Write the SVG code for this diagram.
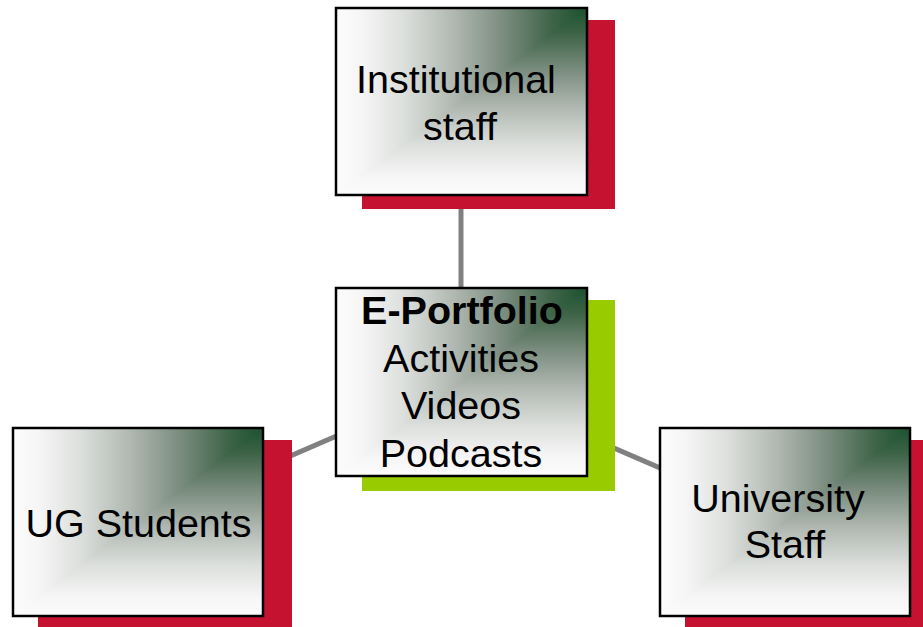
<svg xmlns="http://www.w3.org/2000/svg" width="923" height="627" viewBox="0 0 923 627">
<defs>
<linearGradient id="gh" x1="1" y1="0" x2="0" y2="0">
<stop offset="0" stop-color="#1b5230"/>
<stop offset="0.14" stop-color="#3f6448"/>
<stop offset="0.33" stop-color="#7a8c7e"/>
<stop offset="0.53" stop-color="#b0b8b1"/>
<stop offset="0.73" stop-color="#dcdfdc"/>
<stop offset="0.9" stop-color="#f6f6f6"/>
<stop offset="1" stop-color="#fcfcfc"/>
</linearGradient>
<linearGradient id="gv" href="#gh" x1="0" y1="0" x2="0" y2="1"/>
<style>
.gh{fill:url(#gh)}
.gv{fill:url(#gv)}
.frame{fill:none;stroke:#000;stroke-width:2.5}
.red{fill:#c41230}
.grn{fill:#99cc00}
.t{font-family:"Liberation Sans",Arial,sans-serif;font-size:39.5px;fill:#000;text-anchor:middle}
.b{font-weight:bold}
.c{stroke:#808080;stroke-width:5;fill:none}
</style>
</defs>
<rect width="923" height="627" fill="#fff"/>
<g id="connectors">
<line class="c" x1="461" y1="195" x2="461" y2="290"/>
<line class="c" x1="138" y1="522" x2="461" y2="382"/>
<line class="c" x1="461" y1="382" x2="785" y2="522"/>
</g>
<g id="institutional-staff">
<rect class="red" x="362" y="20" width="253" height="189"/>
<rect class="gh" x="336" y="8" width="251" height="187"/>
<polygon class="gv" points="587,8 587,195 336,195"/>
<rect class="frame" x="336" y="8" width="251" height="187"/>
<text class="t" x="456" y="93">Institutional</text>
<text class="t" x="460" y="140">staff</text>
</g>
<g id="e-portfolio">
<rect class="grn" x="362" y="300" width="253" height="191"/>
<rect class="gh" x="336" y="288" width="251" height="188"/>
<polygon class="gv" points="587,288 587,476 336,476"/>
<rect class="frame" x="336" y="288" width="251" height="188"/>
<text class="t b" x="462" y="324">E-Portfolio</text>
<text class="t" x="461" y="372">Activities</text>
<text class="t" x="461" y="419">Videos</text>
<text class="t" x="461" y="467">Podcasts</text>
</g>
<g id="ug-students">
<rect class="red" x="38" y="440" width="254" height="187"/>
<rect class="gh" x="13" y="428" width="250" height="188"/>
<polygon class="gv" points="263,428 263,616 13,616"/>
<rect class="frame" x="13" y="428" width="250" height="188"/>
<text class="t" x="138.5" y="537">UG Students</text>
</g>
<g id="university-staff">
<rect class="red" x="685" y="440" width="238" height="187"/>
<rect class="gh" x="660" y="428" width="250" height="188"/>
<polygon class="gv" points="910,428 910,616 660,616"/>
<rect class="frame" x="660" y="428" width="250" height="188"/>
<text class="t" x="778" y="512">University</text>
<text class="t" x="785" y="558">Staff</text>
</g>
</svg>
